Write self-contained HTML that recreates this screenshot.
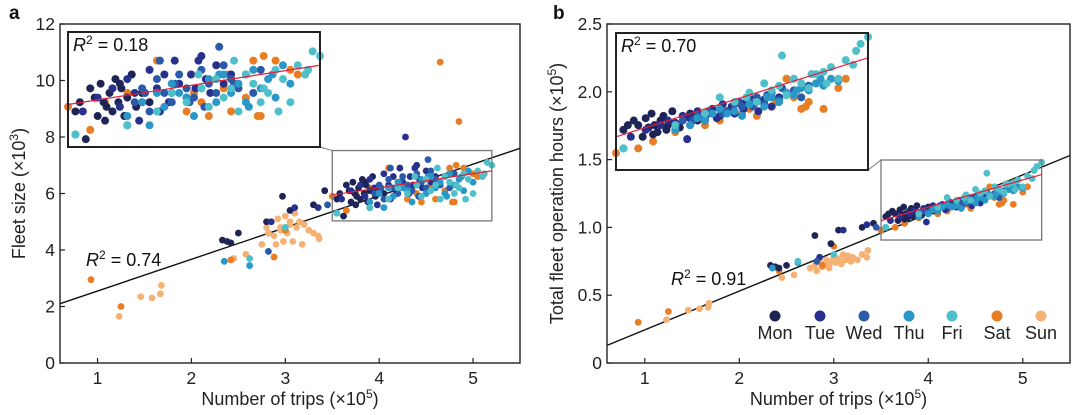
<!DOCTYPE html>
<html><head><meta charset="utf-8"><style>
html,body{margin:0;padding:0;background:#fff;}
svg{display:block;font-family:"Liberation Sans",Arial,sans-serif;}
</style></head><body>
<svg id="fig" width="1080" height="415" viewBox="0 0 1080 415"></svg>
<script>
// ---- data (per day: trips ×1e5, fleet size ×1e3, operation hours ×1e5) ----
const days = ["Mon","Tue","Wed","Thu","Fri","Sat","Sun"];
const dayColors = ["#1e2455","#27308d","#2b5aa8","#2a97c9","#4fbfc9","#e87d24","#f5b274"];
const monTrips=[2.33,2.38,2.42,2.5,2.8,2.97,3.05,3.3,3.42,3.55,3.58,3.62,3.65,3.68,3.7,3.72,3.74,3.76,3.78,3.8,3.82,3.84,3.86,3.88,3.9,3.93,3.96,4.0,4.05,3.75,3.85];
const monFleet=[4.35,4.3,4.25,4.6,5.0,5.9,5.4,5.6,6.1,5.8,6.0,5.2,6.3,6.1,5.7,6.4,6.0,5.9,6.2,5.8,6.5,6.0,6.3,5.7,6.1,6.6,5.9,6.2,6.0,5.6,6.4];
const monHours=[0.72,0.71,0.7,0.72,0.94,0.88,0.98,1.0,1.03,1.08,1.1,1.12,1.1,1.05,1.13,1.09,1.15,1.1,1.07,1.12,1.14,1.08,1.11,1.16,1.1,1.09,1.13,1.15,1.12,1.06,1.1];
const tueTrips=[2.85,3.1,3.35,3.6,3.7,3.8,3.85,3.9,3.95,4.0,4.05,4.1,4.12,4.15,4.2,4.22,4.25,4.28,4.3,4.33,4.36,4.4,4.43,4.46,4.5,4.55,4.6,3.98,4.18,4.38];
const tueFleet=[5.0,5.5,5.5,5.8,6.1,6.3,5.9,6.5,6.2,6.0,6.7,6.3,5.8,6.6,6.2,6.9,6.4,8.0,6.1,6.6,6.3,7.0,6.5,6.2,6.8,6.4,6.6,5.6,6.0,6.9];
const tueHours=[0.78,0.98,1.02,1.05,1.08,1.1,1.12,1.11,1.14,1.13,1.16,1.12,1.15,1.17,1.14,1.19,1.16,1.18,1.15,1.2,1.17,1.22,1.19,1.16,1.21,1.18,1.22,1.04,1.13,1.2];
const wedTrips=[2.82,3.45,3.9,3.95,4.0,4.05,4.1,4.15,4.2,4.25,4.3,4.35,4.4,4.45,4.5,4.55,4.6,4.65,4.7,4.75,4.8,4.12,4.32,4.52,4.62,4.42,4.22,4.02];
const wedFleet=[3.95,5.6,5.5,6.0,6.3,5.8,6.5,6.2,6.0,6.6,6.3,6.1,6.7,6.4,6.2,6.8,6.5,6.3,6.6,6.2,6.7,6.9,6.0,7.2,6.4,5.9,6.4,6.2];
const wedHours=[0.75,1.0,1.1,1.12,1.1,1.14,1.13,1.15,1.17,1.16,1.19,1.18,1.2,1.22,1.19,1.24,1.21,1.23,1.25,1.22,1.27,1.16,1.2,1.23,1.26,1.18,1.15,1.12];
const thuTrips=[2.35,2.62,3.55,3.9,4.0,4.05,4.1,4.15,4.2,4.3,4.35,4.4,4.45,4.5,4.55,4.6,4.65,4.7,4.75,4.8,4.85,4.9,4.95,5.0,4.25,4.52,4.72,4.88];
const thuFleet=[3.6,3.45,5.3,5.7,6.0,5.5,6.2,5.9,6.4,6.1,5.7,6.3,6.5,6.0,6.6,6.2,6.4,6.0,6.7,6.3,6.5,6.1,6.8,6.4,6.2,6.6,5.9,6.6];
const thuHours=[0.7,0.74,1.0,1.08,1.1,1.13,1.12,1.15,1.17,1.16,1.14,1.19,1.2,1.18,1.22,1.2,1.24,1.23,1.26,1.25,1.28,1.27,1.3,1.29,1.15,1.22,1.25,1.3];
const friTrips=[2.62,3.0,3.55,3.9,4.1,4.2,4.3,4.4,4.45,4.5,4.55,4.6,4.65,4.7,4.75,4.8,4.85,4.9,4.95,5.0,5.05,5.1,5.15,5.2,4.62,4.82,4.92,5.12,4.38];
const friFleet=[3.7,4.8,5.3,5.5,5.8,6.2,6.0,6.3,5.9,6.5,6.1,6.3,5.8,6.6,6.4,6.0,6.2,6.7,6.5,6.0,6.8,6.6,7.1,7.0,6.9,6.3,5.8,6.7,6.6];
const friHours=[0.75,0.8,1.0,1.1,1.15,1.22,1.2,1.24,1.2,1.28,1.25,1.27,1.23,1.3,1.28,1.26,1.32,1.33,1.35,1.3,1.38,1.36,1.45,1.48,1.4,1.32,1.28,1.42,1.22];
const satTrips=[0.93,1.25,2.42,2.88,3.0,3.5,3.65,3.75,3.9,4.1,4.2,4.3,4.4,4.45,4.5,4.55,4.6,4.65,4.7,4.75,4.8,4.85,4.9,5.0,5.05,4.35,4.58,4.78,4.82];
const satFleet=[2.95,2.0,3.65,3.75,4.7,5.9,5.4,6.0,6.2,6.9,6.4,5.8,6.0,5.7,6.5,6.3,5.8,10.65,6.1,6.9,5.7,8.55,6.9,6.7,6.6,6.2,6.6,5.7,7.0];
const satHours=[0.3,0.38,0.68,0.72,0.86,0.98,1.0,1.03,1.07,1.1,1.12,1.15,1.17,1.14,1.2,1.18,1.2,1.3,1.22,1.17,1.2,1.28,1.17,1.26,1.3,1.15,1.2,1.18,1.32];
const sunTrips=[1.23,1.46,1.58,1.67,1.68,2.45,2.58,2.75,2.8,2.82,2.85,2.88,2.9,2.92,2.95,2.98,3.0,3.02,3.05,3.08,3.1,3.12,3.15,3.18,3.2,3.25,3.3,3.35,3.36,2.95,3.05];
const sunFleet=[1.65,2.35,2.3,2.45,2.75,3.7,3.85,4.2,4.8,4.6,5.0,4.5,4.2,5.1,4.7,4.3,5.2,4.6,4.9,4.3,5.3,4.8,5.0,4.2,4.9,4.7,4.6,4.5,4.4,4.8,5.0];
const sunHours=[0.32,0.39,0.4,0.41,0.44,0.63,0.65,0.7,0.72,0.68,0.74,0.71,0.73,0.76,0.72,0.75,0.78,0.74,0.77,0.73,0.8,0.76,0.79,0.75,0.78,0.76,0.8,0.78,0.83,0.7,0.75];
const xTicks=[1,2,3,4,5];
const yTicksA=[0,2,4,6,8,10,12];
const yTicksB=[0,0.5,1.0,1.5,2.0,2.5];
const yTickLabelsB=["0","0.5","1.0","1.5","2.0","2.5"];
// regression fits [value at x0, value at x1]
const fitA=[2.1,7.6];      // at trips 0.6 and 5.5
const fitAZoom=[5.95,6.8]; // at trips 3.5 and 5.2
const fitB=[0.13,1.53];
const fitBZoom=[1.05,1.39];

const tripsByDay=[monTrips,tueTrips,wedTrips,thuTrips,friTrips,satTrips,sunTrips];
const fleetByDay=[monFleet,tueFleet,wedFleet,thuFleet,friFleet,satFleet,sunFleet];
const hoursByDay=[monHours,tueHours,wedHours,thuHours,friHours,satHours,sunHours];

const NS="http://www.w3.org/2000/svg";
const svg=document.getElementById('fig');
function mk(tag,attrs,parent){const e=document.createElementNS(NS,tag);for(const k in attrs)e.setAttribute(k,attrs[k]);(parent||svg).appendChild(e);return e;}
function lin(d0,d1,r0,r1){return v=>r0+(v-d0)*(r1-r0)/(d1-d0);}

function panel(o){
  const g=mk('g',{});
  
  
  const X=lin(0.6,5.5,o.left,o.right), Y=lin(o.yMin,o.yMax,o.bottom,o.top);
  const fl=mk('line',{x1:X(0.6),y1:Y(o.fit[0]),x2:X(5.5),y2:Y(o.fit[1]),stroke:'#111','stroke-width':1.4},g);
  
  
  const order=[6,5,0,1,2,3,4];
  for(const d of order){
    const t=tripsByDay[d], v=o.vals[d];
    for(let i=0;i<Math.min(t.length,v.length);i++){
      const c=mk('circle',{cx:X(t[i]),cy:Y(v[i]),r:3.4,fill:dayColors[d]},g);
      
      
    }
  }
  const zb=o.zoom;
  const bx0=X(3.5),bx1=X(5.2),by0=Y(zb[1]),by1=Y(zb[0]);
  const zr=mk('rect',{x:bx0,y:by0,width:bx1-bx0,height:by1-by0,fill:'none',stroke:'#777','stroke-width':1.3},g);
  
  
  const rl=mk('line',{x1:X(3.5),y1:Y(o.zfit[0]),x2:X(5.2),y2:Y(o.zfit[1]),stroke:'#e0203a','stroke-width':1.2},g);
  
  
  const cn=mk('line',{x1:o.inset.x1,y1:o.inset.y1,x2:bx0,y2:by0,stroke:'#777','stroke-width':1},g);
  
  
  const ig=mk('g',{},g);
  
  
  mk('rect',{x:o.inset.x0,y:o.inset.y0,width:o.inset.x1-o.inset.x0,height:o.inset.y1-o.inset.y0,fill:'#fff'},ig);
  const IX=lin(3.5,5.2,o.inset.x0,o.inset.x1), IY=lin(zb[0],zb[1],o.inset.y1,o.inset.y0);
  for(const d of order){
    const t=tripsByDay[d], v=o.vals[d];
    for(let i=0;i<Math.min(t.length,v.length);i++){
      if(t[i]<3.5||t[i]>5.2||v[i]<zb[0]||v[i]>zb[1])continue;
      const c=mk('circle',{cx:IX(t[i]),cy:IY(v[i]),r:4,fill:dayColors[d]},ig);
      
      
    }
  }
  const il=mk('line',{x1:IX(3.5),y1:IY(o.zfit[0]),x2:IX(5.2),y2:IY(o.zfit[1]),stroke:'#e0203a','stroke-width':1.2},ig);
  
  
  mk('rect',{x:o.inset.x0,y:o.inset.y0,width:o.inset.x1-o.inset.x0,height:o.inset.y1-o.inset.y0,fill:'none',stroke:'#222','stroke-width':2},ig);
  const ir=mk('text',{x:o.inset.x0+5,y:o.inset.y0+19,'font-size':18,fill:'#111'},ig);
  ir.innerHTML='<tspan font-style="italic">R</tspan><tspan dy="-7" font-size="12">2</tspan><tspan dy="7"> = '+o.insetR+'</tspan>';
  
  
  const mr=mk('text',{x:o.r2x,y:o.r2y,'font-size':18,fill:'#111'},g);
  mr.innerHTML='<tspan font-style="italic">R</tspan><tspan dy="-7" font-size="12">2</tspan><tspan dy="7"> = '+o.mainR+'</tspan>';
  
  
  const fr=mk('rect',{x:o.left,y:o.top,width:o.right-o.left,height:o.bottom-o.top,fill:'none',stroke:'#222','stroke-width':1.4},g);
  
  
  xTicks.forEach(v=>{
    mk('line',{x1:X(v),y1:o.bottom,x2:X(v),y2:o.bottom-5,stroke:'#222','stroke-width':1.2},g);
    const t=mk('text',{x:X(v),y:o.bottom+21,'font-size':17.5,'text-anchor':'middle',fill:'#222'},g);
    t.textContent=v;
    
    
  });
  o.yTicks.forEach((v,i)=>{
    mk('line',{x1:o.left,y1:Y(v),x2:o.left+5,y2:Y(v),stroke:'#222','stroke-width':1.2},g);
    const t=mk('text',{x:o.left-5,y:Y(v)+6,'font-size':17.5,'text-anchor':'end',fill:'#222'},g);
    t.textContent=o.yLabels[i];
    
    
  });
  const xt=mk('text',{x:(o.left+o.right)/2,y:o.bottom+42,'font-size':18,'text-anchor':'middle',fill:'#222'},g);
  xt.innerHTML='Number of trips (×10<tspan dy="-7" font-size="12">5</tspan><tspan dy="7">)</tspan>';
  
  
  const yt=mk('text',{x:0,y:0,'font-size':18,'text-anchor':'middle',fill:'#222',transform:'translate('+o.ytx+','+((o.top+o.bottom)/2)+') rotate(-90)'},g);
  yt.innerHTML=o.ytitle;
  
  
  const pl=mk('text',{x:o.plx,y:19,'font-size':19,'font-weight':'bold',fill:'#111'},g);
  pl.textContent=o.letter;
  
  
}

panel({name:'panel-a',letter:'a',plx:9,left:60,right:520,top:24,bottom:363,yMin:0,yMax:12,
  vals:fleetByDay,fit:fitA,zfit:fitAZoom,zoom:[5.03,7.52],yTicks:yTicksA,yLabels:yTicksA.map(String),
  inset:{x0:68,y0:32,x1:320,y1:147},insetR:'0.18',mainR:'0.74',r2x:86,r2y:266,ytx:25,
  ytitle:'Fleet size (×10<tspan dy="-7" font-size="12">3</tspan><tspan dy="7">)</tspan>'});
panel({name:'panel-b',letter:'b',plx:553,left:607,right:1070,top:24,bottom:363,yMin:0,yMax:2.5,
  vals:hoursByDay,fit:fitB,zfit:fitBZoom,zoom:[0.907,1.497],yTicks:yTicksB,yLabels:yTickLabelsB,
  inset:{x0:616,y0:33,x1:868,y1:170},insetR:'0.70',mainR:'0.91',r2x:671,r2y:285,ytx:563,
  ytitle:'Total fleet operation hours (×10<tspan dy="-7" font-size="12">5</tspan><tspan dy="7">)</tspan>'});

const lg=mk('g',{});


const legX=[775,820,864,909,952,997,1041];
days.forEach((d,i)=>{
  const c=mk('circle',{cx:legX[i],cy:316,r:5.5,fill:dayColors[i]},lg);
  
  
  const t=mk('text',{x:legX[i],y:339,'font-size':18,'text-anchor':'middle',fill:'#222'},lg);
  t.textContent=d;
  
  
});
</script>
</body></html>
